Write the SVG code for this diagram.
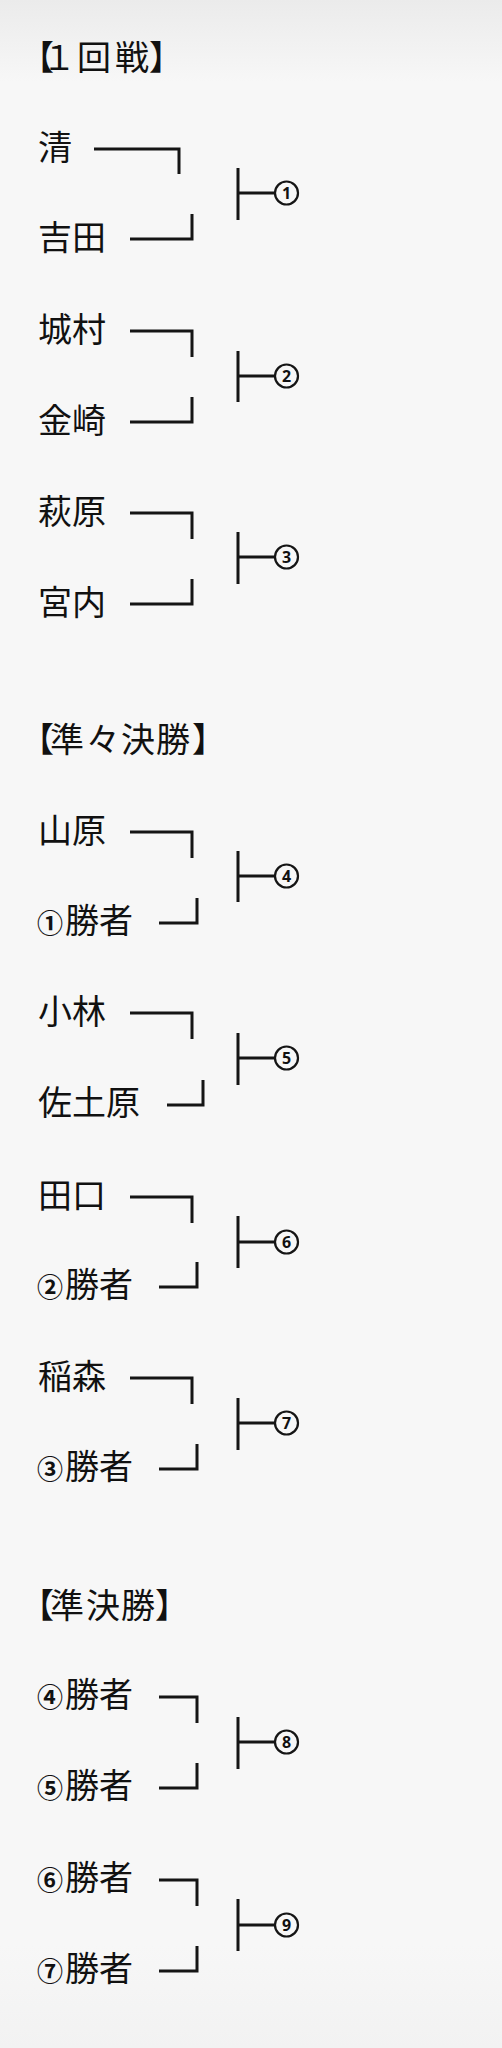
<svg xmlns="http://www.w3.org/2000/svg" width="502" height="2048" viewBox="0 0 502 2048">
<defs>
<linearGradient id="bg" x1="0" y1="0" x2="0" y2="1">
<stop offset="0" stop-color="#ebebeb"/>
<stop offset="0.04" stop-color="#f7f7f7"/>
<stop offset="0.95" stop-color="#f7f7f7"/>
<stop offset="1" stop-color="#f2f2f2"/>
</linearGradient>
</defs>
<style>
text{font-family:"Noto Sans CJK JP","Noto Sans",sans-serif;fill:#111;}
.h{font-size:34px;}
.n{font-size:34px;}
.c{font-size:26px;font-weight:700;}
.ln{fill:none;stroke:#151515;stroke-width:3;stroke-linecap:butt;stroke-linejoin:miter;}
.cir{fill:none;stroke:#151515;stroke-width:2.2;}
.d{font-family:"Noto Sans",sans-serif;font-size:16px;font-weight:700;text-anchor:middle;}
</style>
<rect width="502" height="2048" fill="url(#bg)"/>

<g id="headers">
<text id="h1" class="h" x="20 42 77 115 149" y="70">【１回戦】</text>
<text id="h2" class="h" x="20 50 86 121 156 192" y="752">【準々決勝】</text>
<text id="h3" class="h" x="20 50 86 121 155" y="1618">【準決勝】</text>
</g>

<g id="names">
<text id="n-kiyoshi" class="n" x="38" y="160">清</text>
<text id="n-yoshida" class="n" x="38" y="250">吉田</text>
<text id="n-shiromura" class="n" x="38" y="342">城村</text>
<text id="n-kanesaki" class="n" x="38" y="433">金崎</text>
<text id="n-hagiwara" class="n" x="38" y="524">萩原</text>
<text id="n-miyauchi" class="n" x="38" y="615">宮内</text>
<text id="n-yamahara" class="n" x="38" y="843">山原</text>
<text id="n-w1" class="n" x="37 65 99" y="933"><tspan class="c">①</tspan>勝者</text>
<text id="n-kobayashi" class="n" x="38" y="1024">小林</text>
<text id="n-sadohara" class="n" x="38" y="1115">佐土原</text>
<text id="n-taguchi" class="n" x="38" y="1208">田口</text>
<text id="n-w2" class="n" x="37 65 99" y="1297"><tspan class="c">②</tspan>勝者</text>
<text id="n-inamori" class="n" x="38" y="1389">稲森</text>
<text id="n-w3" class="n" x="37 65 99" y="1479"><tspan class="c">③</tspan>勝者</text>
<text id="n-w4" class="n" x="37 65 99" y="1707"><tspan class="c">④</tspan>勝者</text>
<text id="n-w5" class="n" x="37 65 99" y="1798"><tspan class="c">⑤</tspan>勝者</text>
<text id="n-w6" class="n" x="37 65 99" y="1890"><tspan class="c">⑥</tspan>勝者</text>
<text id="n-w7" class="n" x="37 65 99" y="1981"><tspan class="c">⑦</tspan>勝者</text>
</g>

<g id="connectors">
<path class="ln" d="M94,149H179V174M130,239H192V214M238,168V220M238,193H275"/>
<path class="ln" d="M130,331H192V357M130,422H192V397M238,351V402M238,376H275"/>
<path class="ln" d="M130,513H192V539M130,604H192V579M238,532V584M238,557H275"/>
<path class="ln" d="M130,832H192V858M159,923H197V898M238,851V902M238,876H275"/>
<path class="ln" d="M130,1013H192V1039M167,1105H203V1080M238,1033V1085M238,1058H275"/>
<path class="ln" d="M130,1197H192V1223M159,1287H197V1262M238,1216V1268M238,1242H275"/>
<path class="ln" d="M130,1378H192V1404M159,1469H197V1444M238,1398V1450M238,1423H275"/>
<path class="ln" d="M159,1697H197V1723M159,1788H197V1763M238,1717V1769M238,1742H275"/>
<path class="ln" d="M159,1880H197V1906M159,1971H197V1946M238,1899V1951M238,1925H275"/>
</g>

<g id="m1"><circle class="cir" cx="286.5" cy="193" r="11.5"/><text class="d" x="286.5" y="198.5">1</text></g>
<g id="m2"><circle class="cir" cx="286.5" cy="376" r="11.5"/><text class="d" x="286.5" y="381.5">2</text></g>
<g id="m3"><circle class="cir" cx="286.5" cy="557" r="11.5"/><text class="d" x="286.5" y="562.5">3</text></g>
<g id="m4"><circle class="cir" cx="286.5" cy="876" r="11.5"/><text class="d" x="286.5" y="881.5">4</text></g>
<g id="m5"><circle class="cir" cx="286.5" cy="1058" r="11.5"/><text class="d" x="286.5" y="1063.5">5</text></g>
<g id="m6"><circle class="cir" cx="286.5" cy="1242" r="11.5"/><text class="d" x="286.5" y="1247.5">6</text></g>
<g id="m7"><circle class="cir" cx="286.5" cy="1423" r="11.5"/><text class="d" x="286.5" y="1428.5">7</text></g>
<g id="m8"><circle class="cir" cx="286.5" cy="1742" r="11.5"/><text class="d" x="286.5" y="1747.5">8</text></g>
<g id="m9"><circle class="cir" cx="286.5" cy="1925" r="11.5"/><text class="d" x="286.5" y="1930.5">9</text></g>
</svg>
